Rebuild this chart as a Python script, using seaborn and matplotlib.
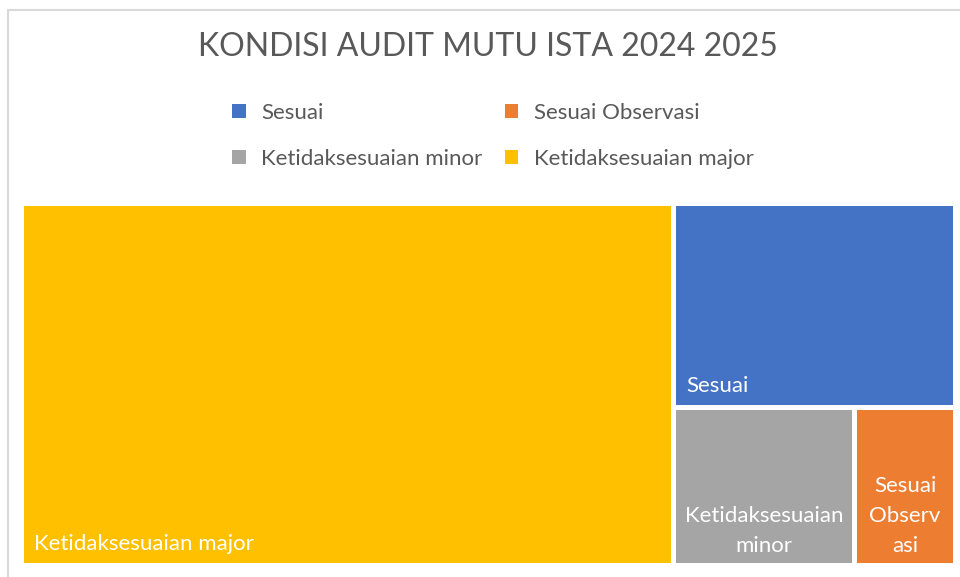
import matplotlib
matplotlib.use("Agg")
import matplotlib.pyplot as plt
from matplotlib.patches import Patch, Rectangle
import seaborn as sns

# data
categories = ["Ketidaksesuaian major", "Sesuai", "Ketidaksesuaian minor", "Sesuai Observasi"]
values = [74, 18, 9, 5]
box_labels = ["Ketidaksesuaian major", "Sesuai", "Ketidaksesuaian\nminor", "Sesuai\nObserv\nasi"]
legend_order = ["Sesuai", "Sesuai Observasi", "Ketidaksesuaian minor", "Ketidaksesuaian major"]
colors = {
    "Sesuai": "#4472C4",
    "Sesuai Observasi": "#ED7D31",
    "Ketidaksesuaian minor": "#A5A5A5",
    "Ketidaksesuaian major": "#FFC000",
}
title = "KONDISI AUDIT MUTU ISTA 2024 2025"


def worst(row, side):
    s = sum(row)
    return max(max(side * side * r / (s * s), s * s / (side * side * r)) for r in row)


def squarify(sizes, x, y, w, h):
    """Squarified treemap layout; sizes must already be scaled to area w*h."""
    rects = []
    sizes = list(sizes)
    while sizes:
        side = min(w, h)
        row = [sizes.pop(0)]
        while sizes and worst(row + [sizes[0]], side) <= worst(row, side):
            row.append(sizes.pop(0))
        s = sum(row)
        if w >= h:
            rw = s / h
            yy = y
            for r in row:
                rh = r / rw
                rects.append((x, yy, rw, rh))
                yy += rh
            x += rw
            w -= rw
        else:
            rh = s / w
            xx = x
            for r in row:
                rw_ = r / rh
                rects.append((xx, y, rw_, rh))
                xx += rw_
            y += rh
            h -= rh
    return rects


sns.set_theme(style="white")
plt.rcParams["font.family"] = ["Lato", "DejaVu Sans"]

W, H = 960, 577
fig = plt.figure(figsize=(W / 100, H / 100), dpi=100)
fig.patch.set_facecolor("white")

# chart area frame (only top and left edges visible in the reference)
fig.patches.append(Rectangle((8 / W, -0.2), 1.2, 1 - 10 / H + 0.2, transform=fig.transFigure,
                             fill=False, edgecolor="#D9D9D9", linewidth=1.5))

# treemap area in pixel-like data units
tx, ty, tw, th = 21.5, 203.5, 934, 362
ax = fig.add_axes([tx / W, 1 - (ty + th) / H, tw / W, th / H])
ax.set_xlim(0, tw)
ax.set_ylim(th, 0)
ax.axis("off")

total = sum(values)
areas = [v / total * tw * th for v in values]
rects = squarify(areas, 0, 0, tw, th)
gap = 2.5
for cat, lab, (rx, ry, rw, rh) in zip(categories, box_labels, rects):
    ax.add_patch(Rectangle((rx + gap, ry + gap), rw - 2 * gap, rh - 2 * gap,
                           facecolor=colors[cat], edgecolor="none"))
    if "\n" in lab:
        ax.text(rx + rw / 2, ry + rh - 10, lab, ha="center", va="bottom",
                color="white", fontsize=16, linespacing=1.6)
    else:
        ax.text(rx + gap + 10, ry + rh - 11, lab, ha="left", va="bottom",
                color="white", fontsize=16)

fig.text(488 / W, 1 - 47 / H, title, ha="center", va="center",
         fontsize=23, color="#595959")

# legend filled column-wise, so reorder to keep row order of the reference
ncol = 2
col_major = [legend_order[i] for c in range(ncol) for i in range(c, len(legend_order), ncol)]
handles = [Patch(facecolor=colors[c], edgecolor="none", label=c) for c in col_major]
fig.legend(handles=handles, loc="center", bbox_to_anchor=(493 / W, 1 - 136 / H), ncol=ncol,
           frameon=False, fontsize=16, labelcolor="#595959", handlelength=0.6,
           handleheight=0.6, handletextpad=0.7, columnspacing=1.0, labelspacing=1.15)

fig.savefig("out.png", dpi=100)
